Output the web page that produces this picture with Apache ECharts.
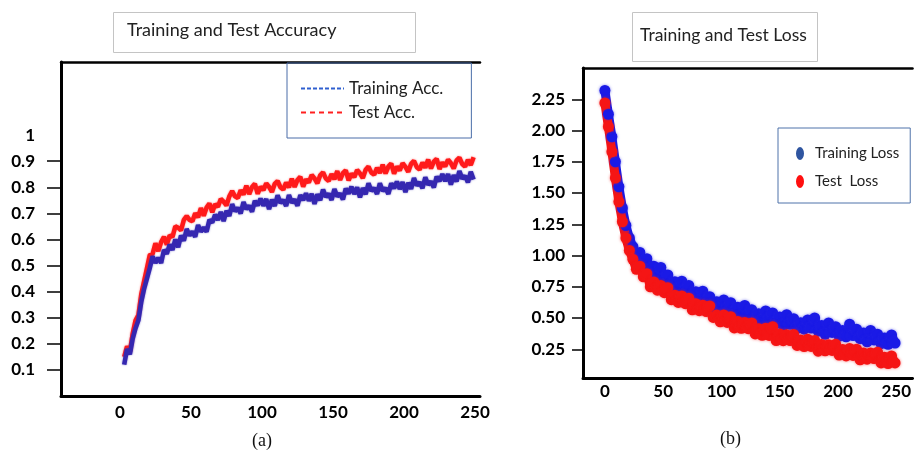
<!DOCTYPE html>
<html>
<head>
<meta charset="utf-8">
<script src="https://cdn.jsdelivr.net/npm/echarts@6/dist/echarts.min.js"></script>
<style>
  html, body { margin: 0; padding: 0; background: #fff; }
  #main { width: 914px; height: 453px; }
</style>
</head>
<body>
<div id="main"></div>
<script>
// accuracy curves, one value every 2 epochs starting at epoch 3
var accStart = 3, accStep = 2;
var trainAcc = [
  0.12, 0.18, 0.16, 0.22, 0.26, 0.29, 0.36, 0.41, 0.45, 0.49,
  0.535, 0.51, 0.53, 0.51, 0.56, 0.545, 0.58, 0.56, 0.60, 0.57,
  0.615, 0.595, 0.64, 0.615, 0.63, 0.61, 0.655, 0.63, 0.645, 0.63,
  0.675, 0.665, 0.695, 0.675, 0.705, 0.67, 0.71, 0.69, 0.735, 0.708,
  0.721, 0.70, 0.743, 0.716, 0.729, 0.706, 0.748, 0.73, 0.757, 0.729,
  0.755, 0.716, 0.752, 0.728, 0.769, 0.74, 0.751, 0.728, 0.77, 0.741,
  0.753, 0.729, 0.77, 0.751, 0.777, 0.748, 0.775, 0.736, 0.773, 0.75,
  0.791, 0.763, 0.775, 0.751, 0.793, 0.765, 0.776, 0.753, 0.795, 0.776,
  0.802, 0.774, 0.80, 0.761, 0.797, 0.773, 0.815, 0.786, 0.797, 0.774,
  0.815, 0.786, 0.797, 0.774, 0.815, 0.796, 0.822, 0.793, 0.82, 0.781,
  0.817, 0.794, 0.835, 0.807, 0.819, 0.796, 0.838, 0.81, 0.822, 0.799,
  0.841, 0.823, 0.85, 0.823, 0.85, 0.81, 0.846, 0.822, 0.862, 0.833,
  0.843, 0.819, 0.859, 0.83
];
var testAcc = [
  0.15, 0.19, 0.17, 0.24, 0.29, 0.31, 0.39, 0.44, 0.49, 0.54,
  0.545, 0.585, 0.555, 0.59, 0.61, 0.58, 0.615, 0.61, 0.65, 0.645,
  0.635, 0.675, 0.69, 0.675, 0.67, 0.70, 0.685, 0.72, 0.691, 0.722,
  0.738, 0.704, 0.735, 0.725, 0.755, 0.745, 0.73, 0.765, 0.785, 0.765,
  0.759, 0.788, 0.772, 0.806, 0.774, 0.801, 0.813, 0.775, 0.802, 0.789,
  0.815, 0.801, 0.782, 0.813, 0.824, 0.80, 0.791, 0.818, 0.80, 0.833,
  0.801, 0.828, 0.84, 0.802, 0.83, 0.818, 0.847, 0.834, 0.815, 0.846,
  0.857, 0.833, 0.824, 0.85, 0.831, 0.862, 0.828, 0.854, 0.865, 0.826,
  0.852, 0.839, 0.866, 0.853, 0.835, 0.867, 0.879, 0.856, 0.848, 0.874,
  0.855, 0.886, 0.853, 0.879, 0.891, 0.852, 0.879, 0.865, 0.892, 0.878,
  0.859, 0.89, 0.901, 0.877, 0.868, 0.894, 0.875, 0.906, 0.872, 0.898,
  0.909, 0.87, 0.895, 0.88, 0.906, 0.892, 0.872, 0.903, 0.913, 0.889,
  0.879, 0.905, 0.885, 0.915
];

// loss curves, one value every 3 epochs starting at epoch 0
var lossStart = 0, lossStep = 3;
var trainLoss = [
  2.32, 2.13, 1.95, 1.75, 1.55, 1.38, 1.24, 1.14, 1.07, 0.975,
  1.025, 0.94, 0.975, 0.885, 0.915, 0.83, 0.905, 0.815, 0.845, 0.755,
  0.79, 0.73, 0.795, 0.72, 0.76, 0.675, 0.71, 0.632, 0.715, 0.633,
  0.671, 0.59, 0.63, 0.575, 0.645, 0.575, 0.622, 0.544, 0.586, 0.513,
  0.60, 0.523, 0.566, 0.49, 0.534, 0.483, 0.557, 0.491, 0.54, 0.464,
  0.508, 0.437, 0.526, 0.45, 0.494, 0.418, 0.462, 0.411, 0.485, 0.42,
  0.50, 0.395, 0.44, 0.37, 0.46, 0.385, 0.43, 0.355, 0.40, 0.35,
  0.45, 0.36, 0.41, 0.335, 0.38, 0.31, 0.40, 0.325, 0.37, 0.295,
  0.34, 0.29, 0.365, 0.30
];
var testLoss = [
  2.22, 2.03, 1.83, 1.62, 1.43, 1.27, 1.14, 1.04, 0.97, 0.89,
  0.915, 0.83, 0.855, 0.75, 0.788, 0.723, 0.76, 0.703, 0.742, 0.647,
  0.683, 0.625, 0.677, 0.615, 0.658, 0.566, 0.615, 0.559, 0.603, 0.552,
  0.596, 0.505, 0.525, 0.47, 0.525, 0.465, 0.51, 0.421, 0.472, 0.418,
  0.464, 0.415, 0.461, 0.373, 0.415, 0.362, 0.419, 0.361, 0.43, 0.32,
  0.372, 0.319, 0.367, 0.32, 0.368, 0.281, 0.324, 0.272, 0.33, 0.273,
  0.321, 0.235, 0.289, 0.238, 0.287, 0.241, 0.29, 0.204, 0.248, 0.197,
  0.256, 0.201, 0.251, 0.166, 0.221, 0.171, 0.221, 0.176, 0.226, 0.141,
  0.186, 0.136, 0.196, 0.141
];

// tick labels
var epochTicks = [0, 50, 100, 150, 200, 250];
var accTicks = [0.1, 0.2, 0.3, 0.4, 0.5, 0.6, 0.7, 0.8, 0.9];
var accLabels = [0.1, 0.2, 0.3, 0.4, 0.5, 0.6, 0.7, 0.8, 0.9, 1];
var lossTicks = [0.25, 0.5, 0.75, 1.0, 1.25, 1.5, 1.75, 2.0, 2.25];

function pairs(vals, start, step) {
  return vals.map(function (v, i) { return [start + i * step, v]; });
}

var chart = echarts.init(document.getElementById('main'));
var font = 'Lato, "Open Sans", sans-serif';

var boldLabel = { color: '#000', fontSize: 17, fontWeight: 'bold', fontFamily: font };

option = {
  animation: false,
  backgroundColor: '#fff',
  grid: [
    { left: 61, top: 62, width: 419, height: 334 },
    { left: 583, top: 68, width: 331, height: 310 }
  ],
  xAxis: [
    {
      gridIndex: 0, type: 'value', min: -41.5, max: 253.5, position: 'bottom',
      axisLine: { onZero: false, lineStyle: { color: '#000', width: 3 } },
      axisTick: { show: false },
      splitLine: { show: false },
      axisLabel: Object.assign({ customValues: epochTicks, margin: 8 }, boldLabel)
    },
    {
      gridIndex: 0, type: 'value', min: -41.5, max: 253.5, position: 'top',
      axisLine: { onZero: false, lineStyle: { color: '#000', width: 2.5 } },
      axisTick: { show: false }, axisLabel: { show: false }, splitLine: { show: false }
    },
    {
      gridIndex: 1, type: 'value', min: -18.8, max: 264, position: 'bottom',
      axisLine: { onZero: false, lineStyle: { color: '#000', width: 3 } },
      axisTick: { show: false },
      splitLine: { show: false },
      axisLabel: Object.assign({ customValues: epochTicks, margin: 5 }, boldLabel)
    },
    {
      gridIndex: 1, type: 'value', min: -18.8, max: 264, position: 'top',
      axisLine: { onZero: false, lineStyle: { color: '#000', width: 2.5 } },
      axisTick: { show: false }, axisLabel: { show: false }, splitLine: { show: false }
    }
  ],
  yAxis: [
    {
      gridIndex: 0, type: 'value', min: 0, max: 1.28,
      axisLine: { onZero: false, lineStyle: { color: '#000', width: 3 } },
      axisTick: { customValues: accTicks, length: 14, lineStyle: { color: '#000', width: 1.5 } },
      splitLine: { show: false },
      axisLabel: Object.assign({
        customValues: accLabels, margin: 26,
        formatter: function (v) { return v === 1 ? '1' : v.toFixed(1); }
      }, boldLabel)
    },
    {
      gridIndex: 1, type: 'value', min: 0.02, max: 2.5,
      axisLine: { onZero: false, lineStyle: { color: '#000', width: 3 } },
      axisTick: { customValues: lossTicks, length: 11, lineStyle: { color: '#000', width: 1.5 } },
      splitLine: { show: false },
      axisLabel: Object.assign({
        customValues: lossTicks, margin: 18,
        formatter: function (v) { return v.toFixed(2); }
      }, boldLabel)
    }
  ],
  legend: [
    {
      left: 287, top: 63, orient: 'vertical',
      padding: [17, 28, 17, 13],
      borderColor: '#4a6da8', borderWidth: 1,
      itemWidth: 43, itemHeight: 14, itemGap: 7,
      textStyle: { fontSize: 17, color: '#222', fontFamily: font },
      data: [
        { name: 'Training Acc.', itemStyle: { opacity: 0 }, lineStyle: { type: [4, 2], width: 2, color: '#3060d0' } },
        { name: 'Test Acc.', itemStyle: { opacity: 0 }, lineStyle: { type: [5, 4], width: 2, color: '#ff2020' } }
      ]
    },
    {
      left: 778, top: 128, orient: 'vertical',
      padding: [18, 11, 14, 18],
      borderColor: '#4f72aa', borderWidth: 1,
      itemWidth: 8, itemHeight: 13, itemGap: 13,
      textStyle: { fontSize: 15, color: '#222', fontFamily: font, padding: [0, 0, 0, 6] },
      data: [
        { name: 'Training Loss', icon: 'path://M0,8a5,8 0 1,0 10,0a5,8 0 1,0 -10,0z', itemStyle: { color: '#2f55a0' } },
        { name: 'Test  Loss', icon: 'path://M0,8a5,8 0 1,0 10,0a5,8 0 1,0 -10,0z', itemStyle: { color: '#ff1010' } }
      ]
    }
  ],
  graphic: [
    {
      type: 'rect', left: 113, top: 12,
      shape: { width: 302, height: 40 },
      style: { fill: '#fff', stroke: '#c4c4c4', lineWidth: 1 }
    },
    {
      type: 'text', left: 127, top: 21,
      style: { text: 'Training and Test Accuracy', fill: '#222', font: '18px ' + font }
    },
    {
      type: 'rect', left: 632, top: 12,
      shape: { width: 185, height: 49 },
      style: { fill: '#fff', stroke: '#c4c4c4', lineWidth: 1 }
    },
    {
      type: 'text', left: 640, top: 26,
      style: { text: 'Training and Test Loss', fill: '#222', font: '17.5px ' + font }
    },
    {
      type: 'text', left: 252, top: 432,
      style: { text: '(a)', fill: '#111', font: '18px "Liberation Serif", serif' }
    },
    {
      type: 'text', left: 720, top: 430,
      style: { text: '(b)', fill: '#111', font: '18px "Liberation Serif", serif' }
    }
  ],
  series: [
    {
      name: 'Test Acc.', type: 'line', xAxisIndex: 0, yAxisIndex: 0,
      symbol: 'none', data: pairs(testAcc, accStart, accStep),
      itemStyle: { color: '#ff1a1a' },
      lineStyle: { color: '#ff1a1a', width: 4.5, shadowBlur: 2, shadowColor: 'rgba(255,40,40,0.6)' }
    },
    {
      name: 'Training Acc.', type: 'line', xAxisIndex: 0, yAxisIndex: 0,
      symbol: 'none', data: pairs(trainAcc, accStart, accStep),
      itemStyle: { color: '#3527b0' },
      lineStyle: { color: '#3527b0', width: 4.5, shadowBlur: 2, shadowColor: 'rgba(60,50,180,0.6)' }
    },
    {
      name: 'Training Loss', type: 'line', xAxisIndex: 2, yAxisIndex: 1,
      symbol: 'circle', symbolSize: 11, showAllSymbol: true,
      data: pairs(trainLoss, lossStart, lossStep),
      itemStyle: { color: '#1a1ae6', shadowBlur: 3, shadowColor: 'rgba(40,40,230,0.6)' },
      lineStyle: { color: '#1a1ae6', width: 9 }
    },
    {
      name: 'Test  Loss', type: 'line', xAxisIndex: 2, yAxisIndex: 1,
      symbol: 'circle', symbolSize: 11, showAllSymbol: true,
      data: pairs(testLoss, lossStart, lossStep),
      itemStyle: { color: '#f51515', shadowBlur: 3, shadowColor: 'rgba(245,30,30,0.6)' },
      lineStyle: { color: '#f51515', width: 9 }
    }
  ]
};

chart.setOption(option);
</script>
</body>
</html>
